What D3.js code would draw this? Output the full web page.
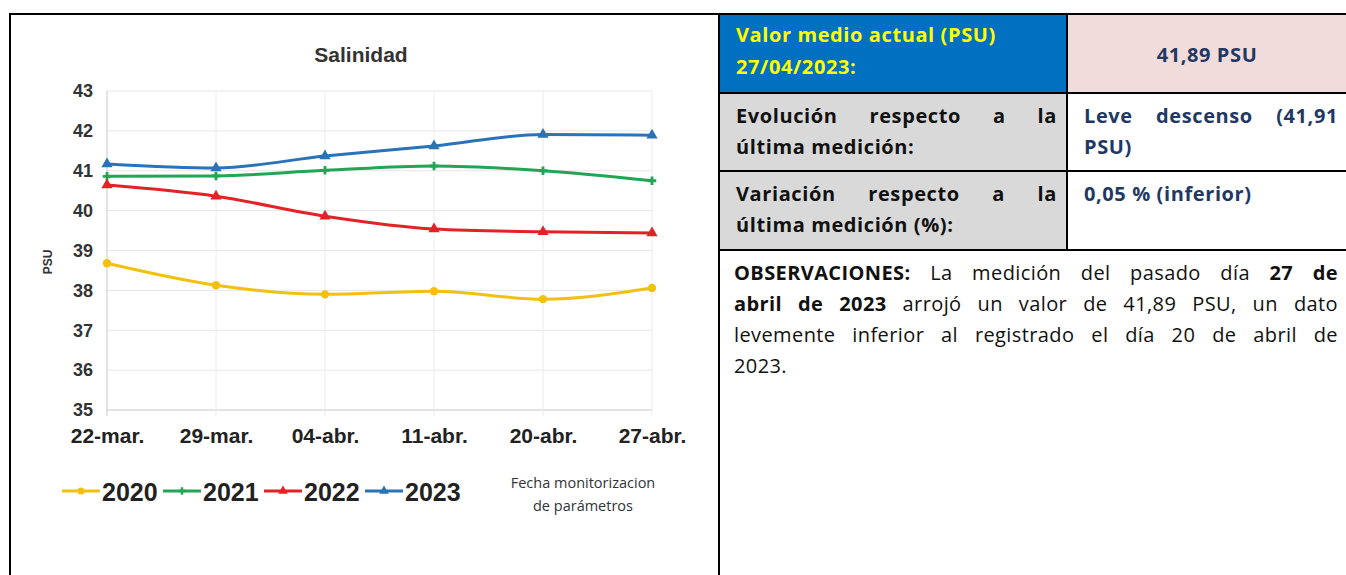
<!DOCTYPE html>
<html>
<head>
<meta charset="utf-8">
<script src="https://cdn.jsdelivr.net/npm/d3@7"></script>
<style>
  body { margin: 0; background: #fff; }
  #wrap { position: relative; width: 1346px; height: 575px; overflow: hidden; }
  svg { position: absolute; left: 0; top: 0; }
  .cell { position: absolute; box-sizing: border-box; font-family: "Open Sans", Lato, sans-serif;
          font-size: 20px; line-height: 31px; letter-spacing: 0.4px; }
  .b { font-weight: bold; letter-spacing: 0.6px; }
  .jl { text-align: justify; text-align-last: justify; white-space: nowrap; }
  .ll { text-align: left; white-space: nowrap; }
</style>
</head>
<body>
<div id="wrap">
  <svg id="chart" width="1346" height="575"></svg>
</div>
<script>
// datos
const fechas = ['22-mar.', '29-mar.', '04-abr.', '11-abr.', '20-abr.', '27-abr.'];
const anios = ['2020', '2021', '2022', '2023'];
const v2020 = [38.68, 38.13, 37.90, 37.98, 37.78, 38.06];
const v2021 = [40.86, 40.87, 41.01, 41.12, 41.00, 40.75];
const v2022 = [40.64, 40.36, 39.86, 39.54, 39.47, 39.44];
const v2023 = [41.17, 41.07, 41.37, 41.62, 41.91, 41.89];
const yTicks = [35, 36, 37, 38, 39, 40, 41, 42, 43];

const series = [v2020, v2021, v2022, v2023];
const colores = ['#f2c10f', '#22a555', '#e42226', '#2a73b8'];
const simbolos = [d3.symbolCircle, d3.symbolCross, d3.symbolTriangle, d3.symbolTriangle];

const svg = d3.select('#chart');

// marcos
svg.append('path')
  .attr('d', 'M10,575 V14 H1346')
  .attr('fill', 'none').attr('stroke', '#000').attr('stroke-width', 2);
svg.append('line').attr('x1', 719).attr('x2', 719).attr('y1', 14).attr('y2', 575)
  .attr('stroke', '#000').attr('stroke-width', 2);

const x = d3.scalePoint().domain(fechas).range([107, 652]);
const y = d3.scaleLinear().domain([35, 43]).range([410, 91]);

// rejilla
svg.append('g').selectAll('line').data(yTicks).join('line')
  .attr('x1', 107).attr('x2', 652)
  .attr('y1', d => y(d)).attr('y2', d => y(d))
  .attr('stroke', d => d === 35 ? '#c8c8c8' : '#e6e6e6').attr('stroke-width', 1);
svg.append('g').selectAll('line').data(fechas).join('line')
  .attr('x1', d => x(d)).attr('x2', d => x(d))
  .attr('y1', y(43)).attr('y2', y(35) + 6)
  .attr('stroke', (d, i) => i === 0 ? '#c8c8c8' : '#ececec').attr('stroke-width', 1);

// titulo
svg.append('text').attr('x', 361).attr('y', 62).attr('text-anchor', 'middle')
  .attr('font-family', 'Liberation Sans, Arial, sans-serif').attr('font-weight', 'bold')
  .attr('font-size', 21).attr('fill', '#333').text('Salinidad');

// ejes
const yAxis = d3.axisLeft(y).tickValues(yTicks).tickSize(0).tickPadding(0);
svg.append('g').attr('transform', 'translate(93,0)').call(yAxis)
  .call(g => g.select('.domain').remove())
  .selectAll('text')
  .attr('font-family', 'Liberation Sans, Arial, sans-serif').attr('font-weight', 'bold')
  .attr('font-size', 18).attr('fill', '#333');

const xAxis = d3.axisBottom(x).tickSize(0).tickPadding(0);
svg.append('g').attr('transform', 'translate(0,428)').call(xAxis)
  .call(g => g.select('.domain').remove())
  .selectAll('text')
  .attr('font-family', 'Liberation Sans, Arial, sans-serif').attr('font-weight', 'bold')
  .attr('font-size', 21).attr('fill', '#222');

svg.append('text').attr('transform', 'translate(52,262) rotate(-90)').attr('text-anchor', 'middle')
  .attr('font-family', 'Liberation Sans, Arial, sans-serif').attr('font-weight', 'bold')
  .attr('font-size', 12).attr('fill', '#333').text('PSU');

// lineas
const linea = d3.line().x((d, i) => x(fechas[i])).y(d => y(d)).curve(d3.curveMonotoneX);
series.forEach((s, k) => {
  svg.append('path').datum(s).attr('d', linea)
    .attr('fill', 'none').attr('stroke', colores[k]).attr('stroke-width', 3);
  svg.append('g').selectAll('path').data(s).join('path')
    .attr('transform', (d, i) => `translate(${x(fechas[i])},${y(d)})`)
    .attr('d', d3.symbol().type(simbolos[k]).size(k === 1 ? 40 : 55))
    .attr('fill', colores[k]);
});

// leyenda
const ley = svg.append('g').attr('transform', 'translate(62,491)');
anios.forEach((a, k) => {
  const g = ley.append('g').attr('transform', `translate(${k * 101},0)`);
  g.append('line').attr('x1', 0).attr('x2', 38).attr('stroke', colores[k]).attr('stroke-width', 3);
  g.append('path').attr('transform', 'translate(19,0)')
    .attr('d', d3.symbol().type(simbolos[k]).size(k === 1 ? 30 : 40)).attr('fill', colores[k]);
  g.append('text').attr('x', 40).attr('y', 10)
    .attr('font-family', 'Liberation Sans, Arial, sans-serif').attr('font-weight', 'bold')
    .attr('font-size', 25).attr('fill', '#222').text(a);
});
const fecha = svg.append('text').attr('text-anchor', 'middle')
  .attr('font-family', 'Open Sans, Lato, sans-serif').attr('font-size', 14.5).attr('fill', '#333');
fecha.append('tspan').attr('x', 583).attr('y', 488).text('Fecha monitorizacion');
fecha.append('tspan').attr('x', 583).attr('y', 511).text('de parámetros');

// tabla
const wrap = d3.select('#wrap');
function celda(l, t, w, h, fondo, pad, color, bold, lineas) {
  const c = wrap.append('div').attr('class', 'cell' + (bold ? ' b' : ''))
    .style('left', l + 'px').style('top', t + 'px').style('width', w + 'px').style('height', h + 'px')
    .style('background', fondo).style('padding', pad).style('color', color);
  lineas.forEach((ln, i) => {
    const ultima = i === lineas.length - 1;
    c.append('div').attr('class', ultima ? 'll' : 'jl').html(ln);
  });
  return c;
}
const xc = 1067; // division de columnas
celda(720, 15, xc - 720, 78, '#0070c0', '4px 8px 4px 16px', '#ffff00', true,
  ['Valor medio actual (PSU)', '27/04/2023:']).style('line-height', '32px').selectAll('div').attr('class', 'll');
celda(xc + 1, 15, 1346 - xc - 1, 78, '#f2dcdb', '24px 0 0 0', '#1f3864', true, ['41,89 PSU'])
  .select('div').style('text-align', 'center');
celda(720, 94, xc - 720, 77, '#d9d9d9', '6px 10px 6px 16px', '#111', true,
  ['Evolución respecto a la', 'última medición:']);
celda(xc + 1, 94, 1346 - xc - 1, 77, '#fff', '6px 8px 0 16px', '#1f3864', true,
  ['Leve descenso (41,91', 'PSU)']);
celda(720, 172, xc - 720, 78, '#d9d9d9', '6px 10px 6px 16px', '#111', true,
  ['Variación respecto a la', 'última medición (%):']);
celda(xc + 1, 172, 1346 - xc - 1, 78, '#fff', '6px 16px', '#1f3864', true, ['0,05 % (inferior)']);
celda(720, 251, 626, 324, '#fff', '6px 8px 0 14px', '#111', false, [
  '<b>OBSERVACIONES:</b> La medición del pasado día <b>27 de</b>',
  '<b>abril de 2023</b> arrojó un valor de 41,89 PSU, un dato',
  'levemente inferior al registrado el día 20 de abril de',
  '2023.'
]);

// lineas de la tabla
const bordes = [
  [719, 14, 1346, 14], [719, 93, 1346, 93], [719, 171, 1346, 171], [719, 250, 1346, 250],
  [xc, 14, xc, 250]
];
const overlay = wrap.append('svg').attr('width', 1346).attr('height', 575).style('pointer-events', 'none');
overlay.selectAll('line').data(bordes).join('line')
  .attr('x1', d => d[0]).attr('y1', d => d[1]).attr('x2', d => d[2]).attr('y2', d => d[3])
  .attr('stroke', '#000').attr('stroke-width', 2);
</script>
</body>
</html>
